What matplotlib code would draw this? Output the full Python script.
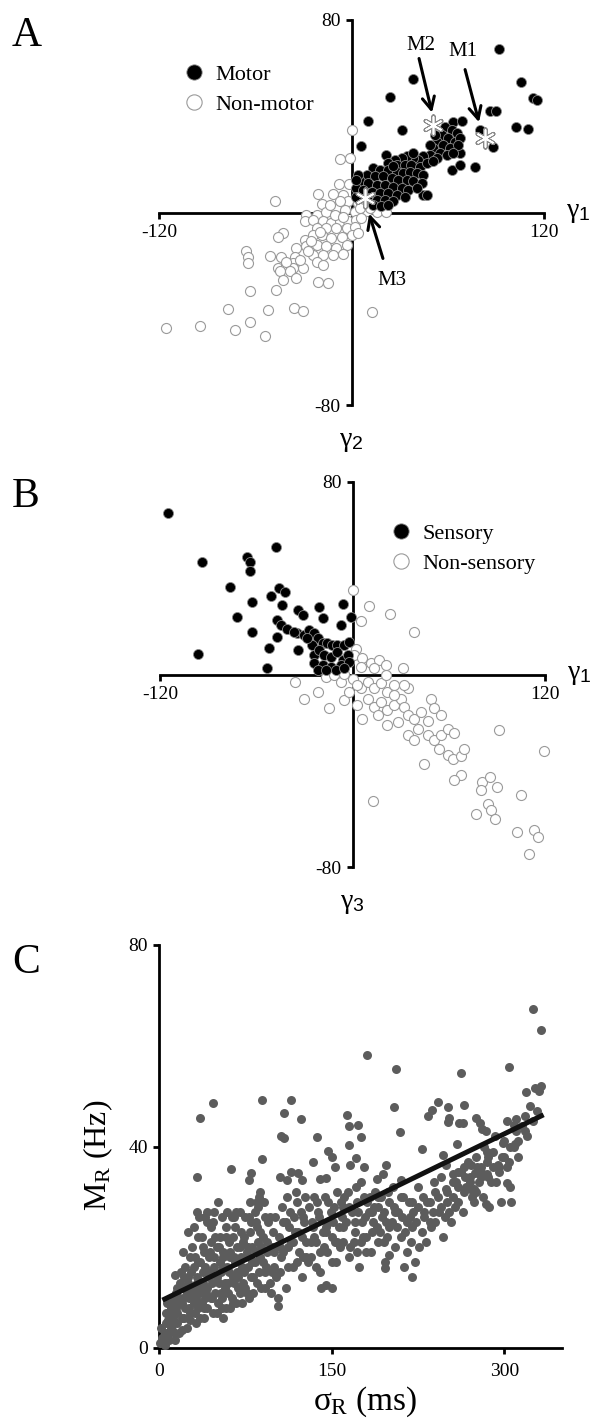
import numpy as np
import matplotlib
matplotlib.use("Agg")
import matplotlib.pyplot as plt
from matplotlib.lines import Line2D

plt.rcParams['font.family'] = ['Liberation Serif', 'DejaVu Serif']
plt.rcParams['mathtext.fontset'] = 'custom'
plt.rcParams['mathtext.it'] = 'Liberation Serif'
plt.rcParams['mathtext.rm'] = 'Liberation Sans'

# ---------------- Panel A data (gamma1, gamma2) ----------------
motor_x = [92.1, 38.5, 105.6, 23.9, 113.3, 115.4, 86.3, 90.0, 10.4, 31.6, 102.5, 110.2, 6.2, 80.0, 88.4,
           76.9, 62.4, 67.6, 67.6, 44.7,
           63.4, 68.6, 58.2, 62.4, 65.5, 56.2, 60.3, 64.5, 67.6, 53.0, 57.2, 61.4, 66.6, 51.0, 55.1, 59.3,
           63.4, 48.9, 53.0, 44.7, 41.6, 38.5, 34.3, 31.2, 27.0, 21.8, 22.9, 28.1, 33.3, 37.4, 42.6, 46.8,
           51.0, 13.5, 17.7, 22.9, 28.1, 32.2, 36.4, 40.6, 44.7, 9.4, 14.6, 19.8, 25.0, 29.1, 34.3, 38.5,
           43.7, 5.2, 10.4, 15.6, 20.8, 26.0, 31.2, 35.4, 40.6, 3.1, 7.3, 12.5, 17.7, 22.9, 28.1, 33.3,
           3.1, 9.4, 15.6, 20.8, 26.0, 13.5, 18.7, 22.9, 46.8, 52.0, 48.9, 38.5, 26.0, 4.2, 2.7]
motor_y = [67.9, 55.5, 54.4, 47.8, 47.5, 46.8, 42.2, 42.2, 38.2, 34.3, 35.7, 34.6, 27.7, 34.3, 27.1,
           18.8, 17.7, 19.8, 24.7, 7.3,
           37.8, 38.1, 35.7, 34.3, 33.0, 32.3, 30.9, 29.5, 30.9, 29.5, 28.1, 26.7, 28.1, 26.7, 24.7, 24.0,
           24.7, 24.0, 22.6, 23.3, 21.9, 22.6, 23.3, 22.6, 21.9, 24.0, 20.5, 19.8, 19.8, 19.8, 19.1, 20.5,
           21.2, 18.4, 17.7, 17.7, 17.0, 16.3, 17.0, 16.3, 15.7, 15.7, 15.0, 15.0, 14.3, 13.6, 13.6, 12.9,
           12.2, 12.9, 12.2, 11.5, 11.5, 10.8, 10.1, 9.4, 10.1, 10.1, 9.4, 8.7, 8.0, 8.0, 7.3, 6.6,
           6.6, 6.0, 5.3, 5.3, 4.6, 3.2, 2.5, 3.2, 7.3, 32.3, 28.1, 24.7, 19.2, 15.7, 13.6]

nonmotor_x = [0.0, -7.3, -1.0, -7.7, -1.5, -11.4, -20.8, -5.2, -18.7, -47.8, -2.1, 4.2, -28.1, -21.8,
              -15.6, -9.4, -4.2, 2.1, 9.4, 15.6, 21.8, -29.1, -23.9, -17.7, -12.5, -7.3, -2.1, 3.1, 6.2,
              -21.8, -15.6, -9.4, -3.1, 2.1, -42.6, -45.8, -29.1, -23.9, -18.7, -12.5, -6.2, 0.0, 4.2,
              -34.3, -28.1, -21.8, -15.6, -9.4, -3.1, -65.5, -64.5, -51.0, -43.7, -35.4, -23.9, -17.7,
              -11.4, -5.2, -64.5, -45.8, -40.6, -36.4, -30.2, -21.8, -17.7, -44.7, -42.6, -36.4, -63.4,
              -46.8, -20.8, -14.6, -77.0, -52.0, -35.8, -30.2, 12.5, -115.4, -94.6, -63.4, -72.4, -54.1,
              -40.6, -32.2, -27.0, -38.5, -34.3, -7.3, -13.5, -10.4, -5.2, -19.8, -25.0, 5.2, 11.4]
nonmotor_y = [34.3, 22.3, 22.6, 11.8, 11.8, 7.6, 7.6, 7.3, 3.5, 4.6, 4.6, 3.9, -1.0, -1.0,
              0.4, 1.8, 1.1, 0.4, 0.7, 0.1, 0.1, -3.7, -3.0, -3.7, -4.4, -3.7, -3.7, -3.0, -2.1,
              -6.5, -6.5, -6.5, -6.5, -6.2, -8.6, -10.0, -11.4, -9.3, -9.3, -10.7, -10.0, -9.3, -8.6,
              -14.8, -14.1, -13.4, -14.1, -14.8, -13.4, -16.2, -18.3, -18.0, -18.3, -18.3, -17.6, -17.6,
              -17.6, -17.3, -21.1, -23.1, -21.7, -21.1, -23.1, -20.4, -21.7, -24.5, -28.0, -23.1, -32.8,
              -32.1, -28.7, -29.4, -40.0, -40.4, -39.7, -41.1, -41.4, -48.1, -47.0, -45.7, -48.8, -51.5,
              -20.4, -19.7, -16.2, -24.5, -27.3, 4.6, 3.2, -1.0, -1.7, -7.9, -12.0, 1.8, 1.8]

marked_names = ["M1", "M2", "M3"]
marked_x = [83.2, 50.5, 8.3]
marked_y = [30.9, 36.4, 6.0]

# ---------------- Panel B data (gamma1, gamma3) ----------------
sensory_x = [-114.8, -94.0, -47.8, -65.5, -63.9, -63.9, -76.3, -62.4, -72.2, -62.8, -96.3, -51.0, -45.8,
             -42.2, -43.7, -53.5, -52.0, -46.8, -44.7, -46.8, -40.6, -33.9, -33.9, -30.8, -20.8, -18.7,
             -6.2, -7.3, -1.0,
             -34.3, -30.2, -27.0, -23.9, -21.8, -18.7, -15.6, -12.5, -9.4, -5.2, -2.1, -25.0, -23.9,
             -20.8, -17.7, -13.5, -9.4, -6.2, -3.1, -23.9, -18.7, -13.5, -7.3, -2.1, -21.8, -16.6,
             -10.4, -5.2, -36.4, -28.1]
sensory_y = [67.0, 46.9, 52.8, 49.0, 46.6, 43.1, 36.5, 30.2, 24.1, 17.8, 8.5, 32.7, 35.8,
             34.1, 28.8, 2.8, 11.2, 22.6, 20.5, 15.7, 19.1, 10.1, 26.8, 24.7, 28.2, 23.3,
             29.5, 20.5, 24.0,
             17.1, 16.4, 18.4, 17.1, 15.0, 12.9, 12.9, 12.2, 12.2, 12.2, 13.6, 12.2, 8.0,
             10.1, 8.0, 7.4, 9.4, 6.0, 8.0, 4.6, 3.9, 3.2, 3.9, 5.3, 1.8, 1.8,
             1.8, 2.5, 17.8, 15.0]

nonsensory_x = [0.6, 10.4, 23.5, 5.6, 38.5, 2.1, 1.0, 6.2, 11.4, 16.6, 20.8, 31.2, 5.2, 13.5,
                -36.0, -30.2, -14.4, -21.8, -16.6, -11.4, -7.3, -5.2, 0.0, 5.2,
                3.1, 9.4, 13.5, 17.7, 21.8, 26.0, 9.4, 13.5, 17.7, 21.8, 26.0, 30.2, 32.2, 34.3, 38.5,
                42.6, 48.9, 51.0, 55.1, 46.8, 40.6, 46.8, 51.0, 55.1, 59.3, 63.4, 44.7, 54.1, 59.3,
                62.4, 67.6, 69.7, 67.4, 63.4, 80.5, 85.9, 90.0, 80.0, 105.0, 91.5, 119.5, 12.5, 76.9,
                84.2, 86.3, 88.8, 102.5, 113.4, 115.4, 110.2, -5.2, -2.1, 3.1, 6.2, 15.6, 21.8, 28.1,
                34.3, 38.5, 26.0, 34.3, 20.8, 32.2]
nonsensory_y = [35.1, 28.6, 25.0, 22.2, 17.5, 10.8, 8.0, 6.7, 4.6, 6.0, 3.9, 2.5, 3.2, 2.5,
                -3.3, -10.3, -13.9, -7.2, -1.0, -0.3, -3.1, -10.7, -1.7, -5.8,
                -4.4, -3.1, -5.8, -3.7, -7.2, -4.4, -10.0, -13.5, -11.4, -14.8, -12.8, -10.0, -13.5,
                -16.9, -18.3, -15.5, -10.0, -14.1, -16.9, -19.4, -22.5, -25.2, -27.3, -25.2, -22.5,
                -24.5, -37.0, -30.8, -33.6, -35.0, -33.8, -30.8, -41.9, -44.0, -44.7, -42.6, -46.7,
                -48.1, -49.9, -22.9, -31.9, -52.7, -57.8, -53.7, -56.5, -60.2, -65.5, -64.8, -67.5,
                -74.5, 0.4, -7.2, -12.8, -18.3, -16.9, -21.1, -19.7, -25.2, -27.3, -8.6, -5.8, -0.3,
                -4.4]

# ---------------- Panel C data (sigma_R in ms, M_R in Hz) ----------------
sigma_r = [324.8, 332.0, 180.6, 205.4, 304.2, 262.3, 318.9, 326.5, 46.5, 36.0, 89.3, 114.8, 108.9, 123.7,
           105.7, 108.3, 137.4, 163.6, 165.2, 172.7, 175.0, 164.9, 204.5, 209.4, 228.3, 233.9, 237.2,
           242.1, 251.2, 251.9, 251.2, 265.0, 260.4, 264.3, 275.7, 279.0, 280.6, 302.6, 308.2, 310.1,
           298.4, 309.1, 258.4, 247.0, 32.7, 62.8, 89.3, 80.1, 78.5, 104.7, 111.2, 114.5, 121.0, 124.3,
           133.5, 140.0, 144.9, 147.2, 150.5, 153.1, 166.2, 170.8, 178.3, 196.9, 194.6, 189.1, 210.1,
           249.3, 255.2, 260.1, 270.9, 274.1, 279.7, 284.6, 294.4, 302.6, 285.3, 273.5, 271.8, 249.3,
           284.2,
           1, 2, 4, 5, 7, 9, 10, 12, 14, 15, 16, 13, 11, 8, 6, 17, 16, 14, 18,
           20, 22, 24, 25, 26, 28, 30, 32, 27, 23, 21, 29, 31, 33, 35, 34, 36, 38, 37, 39, 40, 35, 30,
           25, 19, 23, 27, 36, 40, 39, 33, 42,
           42, 44, 46, 48, 50, 52, 54, 56, 58, 60, 62, 64, 66, 68, 70, 45, 47, 55, 59, 63, 67, 50, 55,
           62, 43, 49, 53, 57, 61, 65, 69, 51, 56, 64,
           72, 74, 76, 78, 80, 82, 84, 86, 88, 90, 92, 94, 96, 98, 100, 75, 79, 83, 87, 91, 73, 77, 81,
           85, 89, 93, 97, 99, 71, 95, 92, 88,
           102, 104, 106, 108, 110, 112, 114, 116, 118, 120, 122, 124, 126, 128, 130, 103, 107, 111,
           117, 121, 125, 129, 115, 119, 105, 113, 127, 123, 101,
           132, 134, 136, 138, 140, 142, 144, 146, 148, 150, 152, 154, 156, 158, 160, 135, 139, 143,
           147, 151, 155, 159, 141, 149, 153, 157, 133, 145, 137,
           162, 164, 166, 168, 170, 172, 174, 176, 178, 180, 182, 184, 186, 188, 190, 192, 194, 196,
           198, 200, 165, 169, 173, 177, 181, 185, 189, 193, 197, 161, 171, 183, 199, 179, 187, 195, 175,
           202, 205, 208, 210, 212, 215, 218, 220, 222, 225, 228, 230, 232, 235, 238, 240, 242, 245,
           248, 250, 204, 207, 211, 214, 217, 219, 221, 223, 226, 229, 233, 236, 239, 243, 247, 203, 213,
           252, 255, 258, 260, 262, 265, 268, 270, 272, 275, 278, 280, 282, 285, 288, 290, 292, 295,
           298, 300, 254, 257, 264, 267, 274, 277, 281, 287, 293, 297, 284, 286, 276, 266,
           302, 305, 308, 310, 312, 315, 318, 320, 322, 325, 328, 330, 332, 304, 306,
           103, 196, 200, 220, 150, 145,
           5, 6, 8, 9, 10, 11, 12, 13, 15, 16, 17, 18, 19, 20, 21, 22, 23, 24, 25, 26, 27, 28, 29, 30,
           20, 14, 7, 3,
           31, 32, 33, 34, 35, 36, 37, 38, 39, 40, 41, 42, 43, 44, 45, 46, 47, 48, 49, 50, 51, 52, 53,
           54, 55, 56, 57, 58, 59, 60, 45, 38, 34, 42, 48, 58, 31, 56,
           61, 62, 63, 64, 65, 66, 67, 68, 69, 70, 71, 72, 73, 74, 75, 76, 77, 78, 79, 80, 81, 82, 83,
           84, 85, 86, 87, 88, 89, 90, 92, 94, 96, 98, 100, 65, 70, 78, 85,
           105, 108, 112, 116, 120, 124, 128, 132, 136, 140, 145, 150, 155, 160, 165, 170, 175, 180,
           185, 190, 110, 125, 135, 160, 172,
           200, 205, 210, 215, 220, 225, 230, 235, 240, 245, 250, 255, 260, 265, 270, 275, 280, 285,
           290, 295, 300, 190, 195, 305, 312, 318]
m_r = [67.2, 63.1, 58.1, 55.4, 55.8, 54.5, 50.9, 51.6, 48.6, 45.6, 49.2, 49.3, 46.7, 45.4,
       42.0, 41.6, 41.8, 46.2, 44.0, 44.2, 41.9, 40.2, 47.9, 42.8, 39.5, 46.1, 47.2,
       48.8, 47.8, 45.7, 44.8, 48.3, 44.6, 44.6, 45.7, 44.6, 43.5, 45.0, 44.3, 45.4,
       40.6, 40.4, 40.4, 38.3, 33.9, 35.6, 37.5, 34.7, 33.4, 34.0, 33.4, 34.9, 34.8, 33.4,
       36.9, 33.6, 33.8, 39.2, 38.0, 36.0, 36.3, 37.7, 36.0, 36.3, 34.6, 33.6, 33.4,
       36.3, 34.6, 34.9, 36.3, 34.7, 34.9, 34.6, 36.3, 32.7, 34.0, 31.6, 31.3, 31.6,
       28.5,
       1, 4, 2, 0.5, 3, 1.5, 4, 6, 3, 8, 5, 9, 7, 5.5, 7, 10, 12, 14.5, 13,
       9, 6, 11, 14, 8, 12, 16, 10, 18, 16, 19, 20, 7, 13, 9, 17, 12, 15, 22, 19, 26, 26, 24,
       23, 15, 12, 5.5, 6, 10, 8, 27, 27,
       12, 15, 10, 18, 14, 20, 11, 16, 22, 13, 18, 9, 24, 15, 20, 21, 25, 26, 27, 26, 27, 7, 8,
       8, 18, 22, 17, 12, 21, 18, 12, 29, 19, 14,
       16, 22, 11, 18, 25, 14, 19, 28, 23, 17, 12, 21, 26, 15, 19, 26, 29, 27, 30, 29, 13, 20, 17,
       24, 20, 16, 11, 23, 23, 25, 26, 31,
       14, 22, 18, 25, 12, 20, 27, 16, 23, 29, 19, 14, 25, 21, 28, 10, 28, 30, 26, 23, 18, 17, 21,
       31, 20, 24, 30, 27, 26,
       18, 24, 21, 27, 15, 23, 30, 19, 25, 22, 28, 17, 24, 29, 21, 30, 26, 20, 29, 25, 31, 26, 12,
       27, 21, 20, 25, 24, 29,
       25, 31, 20, 27, 23, 29, 16, 25, 30, 22, 27, 19, 25, 31, 28, 23, 26, 17, 22, 29, 28, 21, 27,
       22, 29, 27, 24, 30, 25, 30, 32, 30, 31, 26, 28, 21, 33,
       25, 20, 27, 22, 30, 19, 26, 24, 17, 28, 23, 26, 21, 29, 27, 25, 30, 28, 26, 31, 28, 24, 26,
       23, 29, 21, 27, 25, 20, 30, 29, 24, 33, 27, 22, 32, 16,
       27, 30, 33, 29, 35, 31, 37, 34, 30, 38, 33, 36, 40, 37, 33, 39, 42, 36, 38, 41, 25, 28, 27,
       32, 29, 35, 30, 28, 33, 29, 43, 38, 36, 34,
       36, 32, 40, 43, 38, 44, 46, 42, 48, 45, 47, 51, 52, 37, 29,
       8.3, 15.8, 18.5, 14, 12, 12.5,
       3, 5, 2.5, 6, 8, 3.5, 10, 5, 11, 7, 3, 9, 12, 6, 10, 14, 8, 4, 13, 10, 7, 15, 11, 9,
       3.5, 1.5, 9, 2,
       12, 5, 14, 8, 11, 17, 9, 13, 6, 16, 11, 8, 14, 19, 10, 13, 7, 16, 11, 20, 9, 13, 22,
       15, 10, 18, 13, 8, 16, 11, 24, 20, 22, 25, 27, 24, 18, 6,
       15, 19, 10, 22, 13, 17, 9, 20, 14, 11, 18, 9, 21, 15, 12, 19, 16, 10, 23, 14, 20, 11, 17,
       25, 13, 21, 15, 18, 12, 22, 15, 19, 13, 20, 16, 26, 27, 26, 29,
       15, 19, 16, 21, 17, 22, 18, 21, 16, 19, 23, 17, 21, 24, 18, 25, 21, 19,
       23, 21, 25, 26, 22, 28, 19,
       24, 27, 30, 25, 29, 32, 27, 25, 31, 34, 29, 33, 32, 36, 33, 31, 34, 39,
       36, 35, 38, 30, 27, 40, 41, 43]

fit_x = [3, 334]
fit_y = [9.5, 46.3]

# ---------------- Figure ----------------
W, H = 593, 1423
fig = plt.figure(figsize=(W / 100, H / 100), dpi=100)


def rect(l, t, r, b):
    return [l / W, 1 - b / H, (r - l) / W, (b - t) / H]


def fx(px):
    return px / W


def fy(py):
    return 1 - py / H


SPW = 2.0
TICKFS = 14


def cross_axes(ax, xl, yl):
    ax.set_xlim(-120, 120)
    ax.set_ylim(-80, 80)
    for s in ['top', 'right']:
        ax.spines[s].set_visible(False)
    ax.spines['left'].set_position(('data', 0))
    ax.spines['bottom'].set_position(('data', 0))
    for s in ['left', 'bottom']:
        ax.spines[s].set_linewidth(SPW)
    ax.set_xticks([-120, 120])
    ax.set_yticks([-80, 80])
    ax.set_xticklabels(['-120', '120'])
    ax.set_yticklabels(['-80', '80'])
    ax.tick_params(direction='out', length=4, width=SPW, labelsize=TICKFS, pad=4)
    ax.patch.set_visible(False)
    ax.text(141, 0, xl, fontsize=20, ha='center', va='center', clip_on=False)
    ax.text(0, -95, yl, fontsize=20, ha='center', va='center', clip_on=False)


ms = 52
# Panel A
axA = fig.add_axes(rect(159, 20, 544, 405))
cross_axes(axA, r'$γ_1$', r'$γ_2$')
axA.scatter(nonmotor_x, nonmotor_y, s=ms, facecolor='white', edgecolor='#9a9a9a', linewidth=0.8,
            clip_on=False, zorder=3)
axA.scatter(motor_x, motor_y, s=ms, facecolor='black', edgecolor='#8a8a8a', linewidth=0.6,
            clip_on=False, zorder=4)
axA.scatter(marked_x, marked_y, s=170, marker=(6, 2, 0), color='#8a8a8a', linewidth=3.0, zorder=5)
axA.scatter(marked_x, marked_y, s=150, marker=(6, 2, 0), color='white', linewidth=1.2, zorder=6)

ann = {"M2": ((43.3, 69.4), (42.1, 64.0), (50.2, 41.5)),
       "M1": ((69.5, 66.9), (70.8, 59.4), (79.5, 37.5)),
       "M3": ((25.3, -28.3), (19.6, -19.1), (11.0, -0.5))}
for name in marked_names:
    (tx, ty), tail, head = ann[name]
    axA.text(tx, ty, name, fontsize=15, ha='center', va='center')
    axA.annotate('', xy=head, xytext=tail,
                 arrowprops=dict(arrowstyle='->', lw=2.2, color='black', mutation_scale=22,
                                 shrinkA=0, shrinkB=0), zorder=7)

hA = [Line2D([], [], marker='o', ls='none', markersize=11, markerfacecolor='black',
             markeredgecolor='#8a8a8a', markeredgewidth=0.6),
      Line2D([], [], marker='o', ls='none', markersize=11, markerfacecolor='white',
             markeredgecolor='#9a9a9a', markeredgewidth=0.8)]
axA.legend(hA, ['Motor', 'Non-motor'], loc='upper left', bbox_to_anchor=(fx(183), fy(64)),
           bbox_transform=fig.transFigure, frameon=False, fontsize=16, handlelength=1.0,
           handletextpad=0.45, labelspacing=0.45, borderpad=0, borderaxespad=0)

# Panel B
axB = fig.add_axes(rect(160, 482, 545, 867))
cross_axes(axB, r'$γ_1$', r'$γ_3$')
axB.scatter(nonsensory_x, nonsensory_y, s=ms, facecolor='white', edgecolor='#9a9a9a', linewidth=0.8,
            clip_on=False, zorder=3)
axB.scatter(sensory_x, sensory_y, s=ms, facecolor='black', edgecolor='#8a8a8a', linewidth=0.6,
            clip_on=False, zorder=4)
axB.legend(hA, ['Sensory', 'Non-sensory'], loc='upper left', bbox_to_anchor=(fx(390), fy(523)),
           bbox_transform=fig.transFigure, frameon=False, fontsize=16, handlelength=1.0,
           handletextpad=0.45, labelspacing=0.45, borderpad=0, borderaxespad=0)

# Panel C
axC = fig.add_axes(rect(159, 945, 562, 1348))
axC.set_xlim(0, 350)
axC.set_ylim(0, 80)
for s in ['top', 'right']:
    axC.spines[s].set_visible(False)
for s in ['left', 'bottom']:
    axC.spines[s].set_linewidth(SPW)
axC.set_xticks([0, 150, 300])
axC.set_yticks([0, 40, 80])
axC.tick_params(direction='out', length=4, width=SPW, labelsize=TICKFS, pad=4)
axC.tick_params(axis='x', pad=7)
axC.patch.set_visible(False)
axC.scatter(sigma_r, m_r, s=42, color='#5c5c5c', linewidth=0, clip_on=False, zorder=3)
axC.plot(fit_x, fit_y, color='#111111', lw=3.6, solid_capstyle='butt', zorder=4)

fig.text(fx(98), fy(1155), r'$M_{R}$ (Hz)', rotation=90, fontsize=23, ha='center', va='center')
fig.text(fx(365), fy(1402), r'$σ_{R}$ (ms)', fontsize=24, ha='center', va='center')

# Panel letters
for lab, py in [('A', 36), ('B', 497), ('C', 963)]:
    fig.text(fx(12), fy(py), lab, fontsize=30, ha='left', va='center')

fig.savefig('out.png', dpi=100)
